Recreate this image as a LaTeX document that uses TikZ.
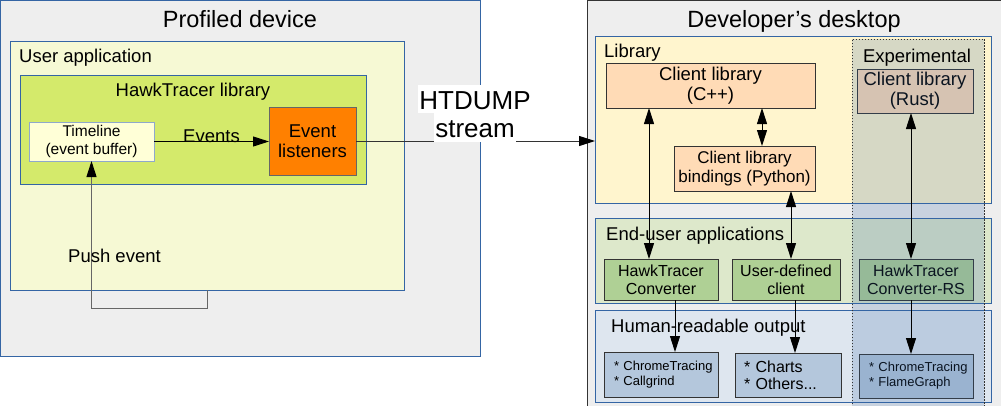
\documentclass[tikz,border=0pt]{standalone}
\usepackage{fontspec}
\setmainfont{Liberation Sans}
\usetikzlibrary{arrows.meta}
\definecolor{bgray}{HTML}{EEEEEE}
\definecolor{bblue}{HTML}{3465A4}
\definecolor{lblue}{HTML}{8FA8CC}
\definecolor{uafill}{HTML}{F6F9D4}
\definecolor{htfill}{HTML}{D4EA6B}
\definecolor{tlfill}{HTML}{FFFFD7}
\definecolor{elfill}{HTML}{FF8000}
\definecolor{libfill}{HTML}{FFF5CE}
\definecolor{clfill}{HTML}{FFDBB6}
\definecolor{euafill}{HTML}{DDE8CB}
\definecolor{hrofill}{HTML}{DEE6EF}
\definecolor{grnfill}{HTML}{AFD095}
\definecolor{outfill}{HTML}{B4C7DC}
\definecolor{dline}{HTML}{333333}
\definecolor{gline}{HTML}{666666}
\tikzset{
  ftitle/.style={font=\fontsize{23.5}{26}\selectfont},
  fnorm/.style={font=\fontsize{18.5}{20.5}\selectfont},
  fbig/.style={font=\fontsize{26}{28}\selectfont},
  area/.style={draw=bblue, line width=1pt, anchor=north west, inner sep=0pt, outer sep=0pt},
  box/.style={draw=dline, line width=1pt, inner sep=0pt, outer sep=0pt, align=center},
  arr/.style={line width=1pt, draw=black, -{Triangle[length=16pt,width=10pt]}},
  darr/.style={line width=1pt, draw=black, {Triangle[length=16pt,width=10pt]}-{Triangle[length=16pt,width=10pt]}},
  garr/.style={line width=1pt, draw=gline, -{Triangle[length=16pt,width=10pt,color=black]}},
  outbox/.style={box, fill=outfill, align=left, anchor=north west, minimum height=44pt},
}
\begin{document}
\begin{tikzpicture}[x=1pt,y=-1pt]
\useasboundingbox (0,0) rectangle (1001,405);
% ---------- Profiled device ----------
\node[area, fill=bgray, minimum width=480pt, minimum height=356pt] (pd) at (0.5,0.5) {};
\node[ftitle, anchor=base] (pdt) at (240,27) {Profiled device};
\node[area, fill=uafill, minimum width=394pt, minimum height=249pt] (ua) at (10,41) {};
\node[fnorm, anchor=base west, inner sep=0pt] (ual) at (19,62) {User application};
\node[area, fill=htfill, minimum width=346pt, minimum height=109pt] (htl) at (20,75) {};
\node[fnorm, anchor=base, inner sep=0pt] (htll) at (193,96) {HawkTracer library};
\node[box, draw=lblue, fill=tlfill, minimum width=125pt, minimum height=39pt, font=\fontsize{15.5}{18}\selectfont] (tl) at (91.5,141.5) {Timeline\\(event buffer)};
\node[box, draw=gline, fill=elfill, minimum width=87pt, minimum height=68pt, fnorm] (el) at (312.5,141) {Event\\listeners};
\draw[arr] (tl.east) -- node[fnorm, anchor=base, yshift=-1pt, inner sep=0pt] (evl) {Events} (tl.east -| el.west);
\coordinate (pstart) at (207,290);
\draw[garr] (pstart) -- ++(0,18) -| (tl.south);
\node[fnorm, anchor=base west, inner sep=0pt] (pel) at (68,262) {Push event};
% ---------- Developer's desktop ----------
\node[area, draw=dline, fill=bgray, minimum width=430pt, minimum height=420pt] (dd) at (587,0.5) {};
\node[ftitle, anchor=base] (ddt) at (794,27) {Developer’s desktop};
\node[area, fill=libfill, minimum width=396pt, minimum height=167pt] (lib) at (595,36) {};
\node[fnorm, anchor=base west, inner sep=0pt] (libl) at (604,57) {Library};
\node[area, fill=euafill, minimum width=396pt, minimum height=85pt] (eua) at (595,218) {};
\node[fnorm, anchor=base west, inner sep=0pt] (eual) at (606,240) {End-user applications};
\node[area, fill=hrofill, minimum width=396pt, minimum height=92pt] (hro) at (595,310) {};
\node[fnorm, anchor=base west, inner sep=0pt] (hrol) at (611,332) {Human-readable output};
\node[box, fill=clfill, minimum width=209pt, minimum height=45pt, font=\fontsize{18.5}{20}\selectfont] (cpp) at (710.5,85.5) {Client library\\(C++)};
\node[box, fill=clfill, minimum width=141pt, minimum height=45pt, font=\fontsize{17}{18.5}\selectfont] (py) at (744.5,168.5) {Client library\\bindings (Python)};
\node[box, fill=clfill, minimum width=116pt, minimum height=44pt, font=\fontsize{18.5}{20}\selectfont] (rust) at (915,91) {Client library\\(Rust)};
\node[box, fill=grnfill, minimum width=114pt, minimum height=41pt, font=\fontsize{16}{18}\selectfont] (htc) at (661,279.5) {HawkTracer\\Converter};
\node[box, fill=grnfill, minimum width=108pt, minimum height=41pt, font=\fontsize{16}{18}\selectfont] (udc) at (786,279.5) {User-defined\\client};
\node[box, fill=grnfill, minimum width=114pt, minimum height=41pt, font=\fontsize{16}{18}\selectfont] (htcrs) at (916,279.5) {HawkTracer\\Converter-RS};
\node[outbox, inner xsep=10pt, text width=94pt, minimum height=45pt, font=\fontsize{13}{15}\selectfont] (out1) at (604,352) {\mbox{* ChromeTracing}\\{}\mbox{* Callgrind}};
\node[outbox, inner xsep=9pt, text width=88pt, font=\fontsize{16}{17}\selectfont] (out2) at (735,353) {\mbox{* Charts}\\{}\mbox{* Others...}};
\node[outbox, inner xsep=10pt, text width=94pt, font=\fontsize{13}{15}\selectfont] (out3) at (859,354) {\mbox{* ChromeTracing}\\{}\mbox{* FlameGraph}};
% Experimental overlay
\node[anchor=north west, inner sep=0pt, minimum width=132pt, minimum height=380pt, fill=bblue, fill opacity=0.2] (expf) at (852,39) {};
\draw[dline, line width=1pt, dash pattern=on 1.5pt off 1.5pt] (expf.south west) -- (expf.north west) -- (expf.north east) -- (expf.south east);
\node[fnorm, anchor=base, inner sep=0pt] (expl) at (917,62) {Experimental};
% arrows
\draw[darr] ([xshift=-12pt]htc.north) -- ([xshift=-12pt]htc.north |- cpp.south);
\draw[darr] ([xshift=17.5pt]py.north) -- ([xshift=17.5pt]py.north |- cpp.south);
\draw[darr] ([xshift=5pt]udc.north) -- ([xshift=5pt]udc.north |- py.south);
\draw[darr] ([xshift=-5pt]htcrs.north) -- ([xshift=-5pt]htcrs.north |- rust.south);
\draw[arr] ([xshift=14pt]htc.south) -- ([xshift=14pt]htc.south |- out1.north);
\draw[arr] ([xshift=9pt]udc.south) -- ([xshift=9pt]udc.south |- out2.north);
\draw[arr] ([xshift=-5pt]htcrs.south) -- ([xshift=-5pt]htcrs.south |- out3.north);
% HTDUMP stream
\draw[garr, draw=dline] (el.east) -- (el.east -| lib.west);
\node[fbig, fill=white, anchor=base, inner sep=1pt, text height=23pt, text depth=3pt] (htd1) at (475,109) {HTDUMP};
\node[fbig, fill=white, anchor=base, inner sep=1pt, text height=23pt, text depth=4pt] (htd2) at (475,137) {stream};
\end{tikzpicture}
\end{document}
